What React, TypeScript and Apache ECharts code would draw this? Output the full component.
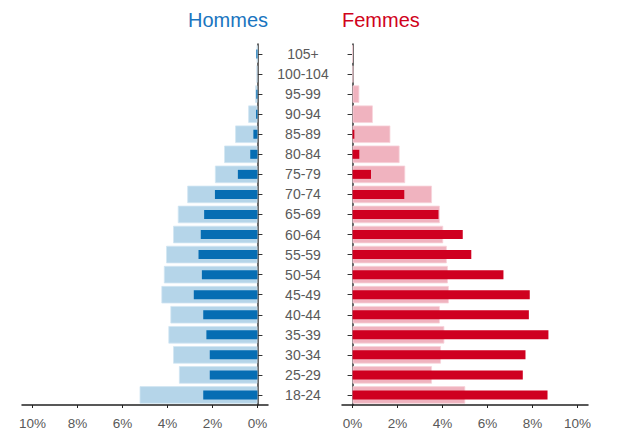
import React, { useEffect, useRef } from "react";
import * as echarts from "echarts";

const categories = [
  "18-24", "25-29", "30-34", "35-39", "40-44", "45-49", "50-54", "55-59", "60-64",
  "65-69", "70-74", "75-79", "80-84", "85-89", "90-94", "95-99", "100-104", "105+",
];
const hommesLight = [5.24, 3.49, 3.75, 3.96, 3.87, 4.27, 4.16, 4.06, 3.75, 3.54, 3.12, 1.89, 1.48, 0.99, 0.41, 0.1, 0.05, 0.02];
const hommesDark = [2.41, 2.12, 2.12, 2.27, 2.41, 2.83, 2.47, 2.62, 2.52, 2.37, 1.89, 0.87, 0.32, 0.18, 0.06, 0.05, 0, 0.05];
const femmesLight = [5.01, 3.53, 3.93, 4.08, 3.88, 4.28, 4.24, 4.19, 4.03, 3.88, 3.53, 2.34, 2.09, 1.68, 0.9, 0.3, 0.03, 0];
const femmesDark = [8.67, 7.57, 7.69, 8.71, 7.84, 7.88, 6.71, 5.28, 4.9, 3.82, 2.3, 0.82, 0.3, 0.08, 0, 0, 0, 0];
const tickValues = [0, 2, 4, 6, 8, 10];

const GRAY = "#595959";
const FONT = "Liberation Sans, Arial, sans-serif";

export default function App() {
  const ref = useRef<HTMLDivElement>(null);
  useEffect(() => {
    if (!ref.current) return;
    const chart = echarts.init(ref.current, undefined, { renderer: "svg" });
    const xAxisBase = (gridIndex: number, inverse: boolean) => ({
      type: "value",
      gridIndex,
      inverse,
      min: -0.47,
      max: 10.47,
      splitLine: { show: false },
      axisLine: { show: true, lineStyle: { color: "#222", width: 1.5 } },
      axisTick: { show: true, length: 3, customValues: tickValues, lineStyle: { color: "#222" } },
      axisLabel: {
        customValues: tickValues,
        formatter: (v: number) => `${v}%`,
        color: GRAY,
        fontSize: 13.5,
        fontFamily: FONT,
        margin: 11,
      },
    });
    const catAxis = (gridIndex: number, position: string, show: boolean, labels: boolean) => ({
      type: "category",
      gridIndex,
      position,
      data: categories,
      show,
      axisLine: { show: true, lineStyle: { color: "#333", width: 1.5 } },
      axisTick: { show: true, alignWithLabel: true, length: 5, lineStyle: { color: "#333" } },
      axisLabel: labels
        ? { show: true, align: "center", margin: 39, color: GRAY, fontSize: 14, fontFamily: FONT }
        : { show: false },
    });
    chart.setOption({
      animation: false,
      textStyle: { fontFamily: FONT },
      title: [
        {
          text: "Hommes",
          right: 617 - 268,
          top: 10,
          textStyle: { color: "#1a75c0", fontSize: 20, fontWeight: "normal", fontFamily: FONT },
          padding: 0,
        },
        {
          text: "Femmes",
          left: 342,
          top: 10,
          textStyle: { color: "#d0021b", fontSize: 20, fontWeight: "normal", fontFamily: FONT },
          padding: 0,
        },
      ],
      grid: [
        { left: 22, top: 44, width: 246, height: 361 },
        { left: 342, top: 44, width: 246, height: 361 },
      ],
      xAxis: [xAxisBase(0, true), xAxisBase(1, false)],
      yAxis: [
        catAxis(0, "right", true, false),
        catAxis(0, "right", false, false),
        catAxis(1, "left", true, true),
        catAxis(1, "left", false, false),
      ],
      series: [
        {
          type: "bar",
          xAxisIndex: 0,
          yAxisIndex: 0,
          data: hommesLight,
          barWidth: 17.5,
          itemStyle: { color: "#b5d5e9", borderColor: "#d2e6f2", borderWidth: 0.8 },
        },
        {
          type: "bar",
          xAxisIndex: 0,
          yAxisIndex: 1,
          data: hommesDark,
          barWidth: 9,
          itemStyle: { color: "#066db3" },
        },
        {
          type: "bar",
          xAxisIndex: 1,
          yAxisIndex: 2,
          data: femmesLight,
          barWidth: 17.5,
          itemStyle: { color: "#f0b3bf", borderColor: "#f7d3da", borderWidth: 0.8 },
        },
        {
          type: "bar",
          xAxisIndex: 1,
          yAxisIndex: 3,
          data: femmesDark,
          barWidth: 9,
          itemStyle: { color: "#cf0020" },
        },
      ],
    });
    return () => chart.dispose();
  }, []);
  return (
    <div
      ref={ref}
      style={{ position: "absolute", left: 0, top: 0, width: 617, height: 442 }}
    />
  );
}
